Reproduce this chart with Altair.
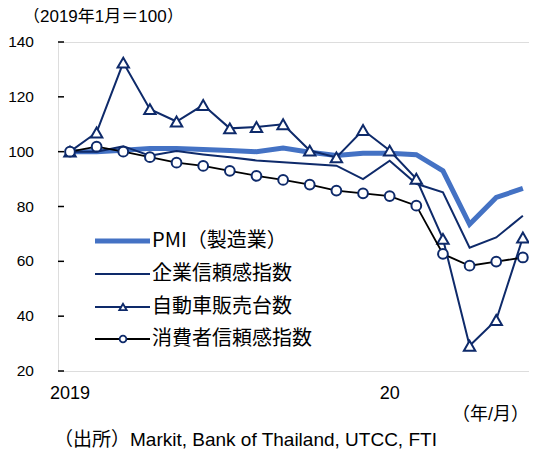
import altair as alt
import pandas as pd

# ---------------- data ----------------
months = ["2019-01", "2019-02", "2019-03", "2019-04", "2019-05", "2019-06",
          "2019-07", "2019-08", "2019-09", "2019-10", "2019-11", "2019-12",
          "2020-01", "2020-02", "2020-03", "2020-04", "2020-05", "2020-06"]
pmi = [100, 100, 100.5, 101.2, 101.2, 100.8, 100.4, 100, 101.3, 99.8, 98.6, 99.4,
       99.4, 98.9, 93, 73.5, 83.3, 86.6]
business = [100, 100, 102, 98.5, 100.2, 99, 98, 96.8, 96.1, 95.5, 94.9, 90,
            96.7, 88.3, 85.2, 65, 68.7, 76.6]
auto = [100, 107, 132.5, 115.5, 111, 117, 108.5, 109, 110, 100.4, 97.9, 107.9,
        100.4, 90.1, 68.2, 29.2, 38.6, 68.7]
consumer = [100, 101.8, 100, 98, 96, 94.8, 93, 91.2, 89.7, 88, 85.8, 84.8,
            83.8, 80.3, 62.7, 58.4, 59.9, 61.4]
series_names = ["PMI（製造業）", "企業信頼感指数", "自動車販売台数", "消費者信頼感指数"]
x_labels = ["2019", "20"]
x_label_month = ["2019-01", "2020-01"]
y_ticks = [20, 40, 60, 80, 100, 120, 140]
y_title = "（2019年1月＝100）"
x_unit = "（年/月）"
source = "（出所）Markit, Bank of Thailand, UTCC, FTI"

# ---------------- styles ----------------
NAVY = "#0E2A6A"
BLUE = "#4472C4"
NUM_FONT = "Liberation Sans, Noto Sans CJK JP"
JP_FONT = "Noto Sans CJK JP"
W, H = 471, 329

idx = list(range(len(months)))


def frame(vals):
    return pd.DataFrame({"i": idx, "v": vals, "month": months})


xs = alt.Scale(domain=[-0.45, 17.23], nice=False, zero=False)
ys = alt.Scale(domain=[20, 140], nice=False, zero=False)
X = alt.X("i:Q", scale=xs, axis=None)
Y = alt.Y("v:Q", scale=ys, axis=None)

# base layer with axes
base = alt.Chart(frame(pmi)).mark_line(color=BLUE, strokeWidth=5).encode(
    x=alt.X("i:Q", scale=xs, title=None,
            axis=alt.Axis(values=[11.5], labels=False, grid=False, tickSize=5,
                          tickColor="black", tickWidth=1.5, domainColor="black",
                          domainWidth=2)),
    y=alt.Y("v:Q", scale=ys, title=None,
            axis=alt.Axis(values=y_ticks, ticks=False, labels=False, grid=False,
                          domainColor="black", domainWidth=2)),
)

ytick_df = pd.DataFrame({"v": y_ticks, "t": [str(t) for t in y_ticks]})
yticks = alt.Chart(ytick_df).mark_rule(color="black", strokeWidth=1.5).encode(
    x=alt.value(0), x2=alt.value(6), y=Y)
ylabels = alt.Chart(ytick_df).mark_text(
    font=NUM_FONT, fontSize=15.5, color="black", align="right", baseline="middle").encode(
    x=alt.value(-24), y=Y, text="t:N")

bus_line = alt.Chart(frame(business)).mark_line(color=NAVY, strokeWidth=2).encode(x=X, y=Y)
auto_line = alt.Chart(frame(auto)).mark_line(color=NAVY, strokeWidth=2).encode(x=X, y=Y)
auto_pts = alt.Chart(frame(auto)).mark_point(
    shape="triangle-up", size=130, filled=True, fill="white", stroke=NAVY,
    strokeWidth=2, opacity=1).encode(x=X, y=Y)
cons_line = alt.Chart(frame(consumer)).mark_line(color="black", strokeWidth=1.8).encode(x=X, y=Y)
cons_pts = alt.Chart(frame(consumer)).mark_point(
    shape="circle", size=95, filled=True, fill="white", stroke=NAVY,
    strokeWidth=2, opacity=1).encode(x=X, y=Y)

# x labels
xl_df = pd.DataFrame({"i": [months.index(m) for m in x_label_month], "t": x_labels})
xlab = alt.Chart(xl_df).mark_text(font=NUM_FONT, fontSize=18, color="black",
                                  baseline="middle").encode(
    x=X, y=alt.value(H + 23), text="t:N")

# legend
leg_rows_y = [199, 232, 265, 297]
leg_styles = [
    dict(color=BLUE, sw=5, shape=None),
    dict(color=NAVY, sw=2, shape=None),
    dict(color=NAVY, sw=2, shape="triangle-up"),
    dict(color="black", sw=1.8, shape="circle"),
]
legend_layers = []
for name, ry, st in zip(series_names, leg_rows_y, leg_styles):
    d = pd.DataFrame({"name": [name]})
    legend_layers.append(alt.Chart(d).mark_rule(color=st["color"], strokeWidth=st["sw"]).encode(
        x=alt.value(37), x2=alt.value(92), y=alt.value(ry)))
    if st["shape"]:
        legend_layers.append(alt.Chart(d).mark_point(
            shape=st["shape"], size=55 if st["shape"] == "triangle-up" else 45,
            filled=True, fill="white", stroke=NAVY, strokeWidth=1.8, opacity=1).encode(
            x=alt.value(65), y=alt.value(ry)))
    legend_layers.append(alt.Chart(d).mark_text(
        font=JP_FONT, fontSize=20, color="black", align="left", baseline="middle").encode(
        x=alt.value(94), y=alt.value(ry), text="name:N"))


# other texts
def label(txt, x, y, size, align="left", font=NUM_FONT):
    return alt.Chart(pd.DataFrame({"t": [txt]})).mark_text(
        font=font, fontSize=size, color="black", align=align, baseline="middle").encode(
        x=alt.value(x), y=alt.value(y), text="t:N")


title_t = label(y_title, -35, -25, 17)
unit_t = label(x_unit, W, 373, 18, align="right")
source_t = label(source, -4, 398, 19)

chart = alt.layer(
    base, yticks, ylabels, bus_line, auto_line, auto_pts, cons_line, cons_pts, xlab,
    *legend_layers, title_t, unit_t, source_t
).properties(
    width=W, height=H,
    autosize=alt.AutoSizeParams(type="none"),
    padding={"left": 50, "top": 34, "right": 0, "bottom": 79},
).configure_view(stroke=None).configure(background="white")

chart.save("out.html", embed_options={"renderer": "svg", "actions": False})
